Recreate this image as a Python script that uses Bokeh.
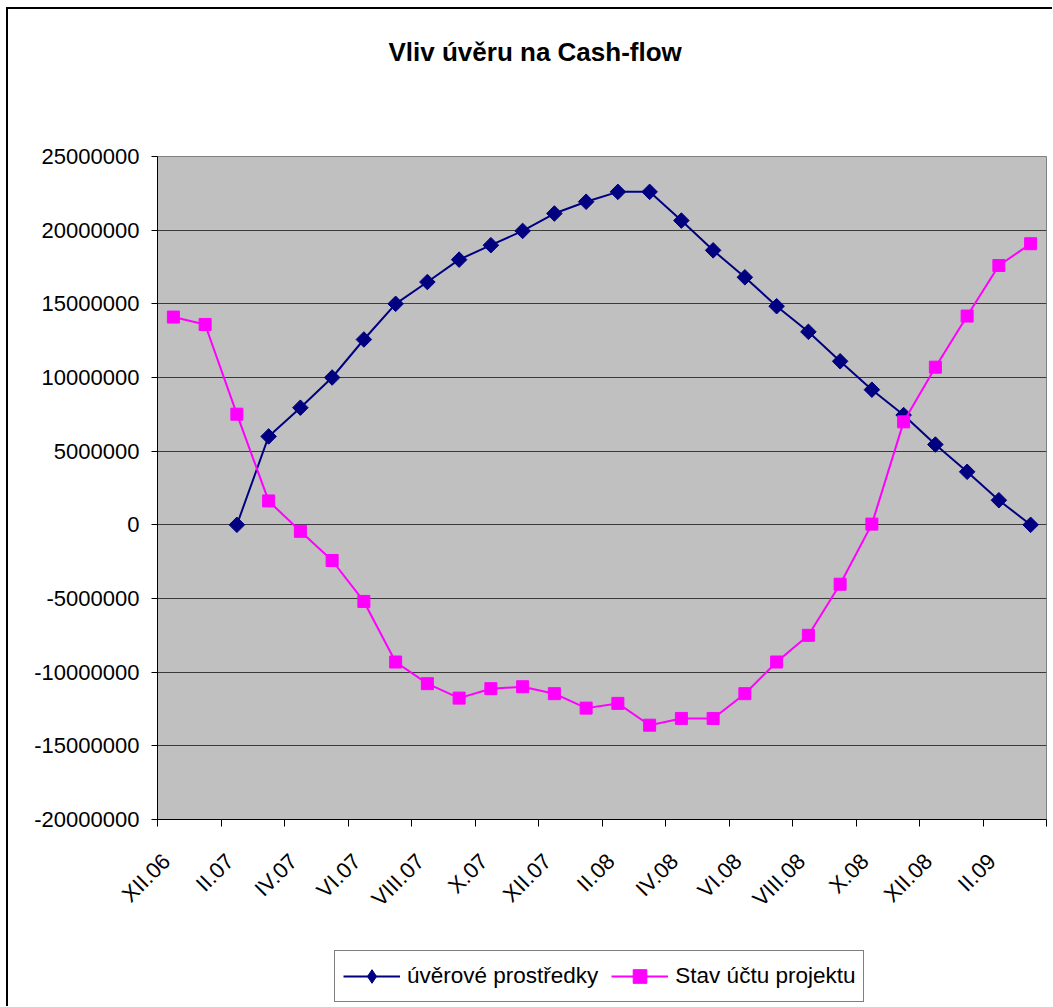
import math
import numpy as np
from bokeh.plotting import figure
from bokeh.layouts import column
from bokeh.models import (FixedTicker, NumeralTickFormatter, Range1d, Legend,
                          LegendItem, ColumnDataSource, Title,
                          CustomJSTickFormatter)
from bokeh.embed import file_html
from bokeh.resources import INLINE

# ---- data ----
categories = ["XII.06", "I.07", "II.07", "III.07", "IV.07", "V.07", "VI.07",
              "VII.07", "VIII.07", "IX.07", "X.07", "XI.07", "XII.07", "I.08",
              "II.08", "III.08", "IV.08", "V.08", "VI.08", "VII.08", "VIII.08",
              "IX.08", "X.08", "XI.08", "XII.08", "I.09", "II.09", "III.09"]

uverove_prostredky = [None, None, 0, 6000000, 7950000, 10000000, 12580000,
                      15000000, 16480000, 18000000, 18980000, 19950000,
                      21130000, 21930000, 22600000, 22600000, 20650000,
                      18630000, 16800000, 14840000, 13100000, 11100000,
                      9170000, 7450000, 5450000, 3600000, 1670000, 0]

stav_uctu_projektu = [14100000, 13600000, 7510000, 1620000, -440000, -2420000,
                      -5200000, -9310000, -10780000, -11760000, -11120000,
                      -10990000, -11460000, -12440000, -12120000, -13600000,
                      -13140000, -13140000, -11460000, -9310000, -7500000,
                      -4030000, 50000, 6990000, 10700000, 14170000, 17600000,
                      19080000]

y_ticks = [-20000000, -15000000, -10000000, -5000000, 0, 5000000, 10000000,
           15000000, 20000000, 25000000]

series_names = ["úvěrové prostředky", "Stav účtu projektu"]
title_text = "Vliv úvěru na Cash-flow"

FONT = "Liberation Sans"
NAVY = "#000080"
MAGENTA = "#FF00FF"

x = list(range(len(categories)))
src = ColumnDataSource(dict(
    x=x,
    uver=[np.nan if v is None else v for v in uverove_prostredky],
    stav=stav_uctu_projektu,
))

# ---------------- main chart ----------------
p = figure(frame_width=889, frame_height=663, output_backend="svg",
           toolbar_location=None,
           x_range=Range1d(-0.5, len(categories) - 0.5),
           y_range=Range1d(y_ticks[0], y_ticks[-1]),
           min_border_left=149, min_border_top=147, min_border_right=6,
           min_border_bottom=120)

p.background_fill_color = "#C0C0C0"
p.border_fill_color = "white"
p.outline_line_color = "#808080"
p.outline_line_width = 1

# spacer between frame and title (title is stacked outermost)
p.add_layout(Title(text=" ", text_font_size="10px", standoff=72), "above")

p.title.text = title_text
p.title.text_font = FONT
p.title.text_font_size = "26px"
p.title.text_font_style = "bold"
p.title.text_color = "black"
p.title.align = "left"
p.title.offset = 231
p.title.standoff = 10

# x axis: tick marks between categories, labels on every 2nd category
label_shift = 0.22
label_idx = list(range(0, len(categories), 2))
p.xaxis.ticker = FixedTicker(ticks=[i - label_shift for i in label_idx],
                             minor_ticks=[i - 0.5 for i in range(0, len(categories) + 1, 2)])
p.xaxis.formatter = CustomJSTickFormatter(args=dict(cats=categories),
                                          code="const c = cats[Math.round(tick)]; return c == null ? '' : c;")
p.xaxis.major_tick_line_color = None
p.xaxis.major_tick_out = 7
p.xaxis.major_tick_in = 0
p.xaxis.minor_tick_line_color = "black"
p.xaxis.minor_tick_out = 7
p.xaxis.minor_tick_in = 0
p.xaxis.major_label_orientation = math.pi / 4
p.xaxis.major_label_text_font = FONT
p.xaxis.major_label_text_font_size = "22px"
p.xaxis.major_label_text_color = "black"
p.xaxis.major_label_standoff = 31
p.xaxis.axis_line_color = "black"

# y axis
p.yaxis.ticker = FixedTicker(ticks=y_ticks)
p.yaxis.formatter = NumeralTickFormatter(format="0")
p.yaxis.major_tick_out = 6
p.yaxis.major_tick_in = 0
p.yaxis.minor_tick_line_color = None
p.yaxis.major_label_text_font = FONT
p.yaxis.major_label_text_font_size = "22px"
p.yaxis.major_label_text_color = "black"
p.yaxis.major_label_standoff = 12
p.yaxis.axis_line_color = "black"

p.xgrid.visible = False
p.ygrid.grid_line_color = "#3a3a3a"
p.ygrid.grid_line_width = 1

p.line("x", "uver", source=src, line_color=NAVY, line_width=2)
p.scatter("x", "uver", source=src, marker="square", angle=math.pi / 4,
          size=11, fill_color=NAVY, line_color=NAVY)
p.line("x", "stav", source=src, line_color=MAGENTA, line_width=2)
p.scatter("x", "stav", source=src, marker="square", size=12,
          fill_color=MAGENTA, line_color=MAGENTA)

# ---------------- legend strip (below the chart) ----------------
lf = figure(width=1044, height=67, output_backend="svg", toolbar_location=None,
            x_range=Range1d(0, 1), y_range=Range1d(0, 1),
            x_axis_type=None, y_axis_type=None, min_border=0)
lf.background_fill_color = "white"
lf.border_fill_color = "white"
lf.outline_line_color = None
lf.xgrid.visible = False
lf.ygrid.visible = False

empty = ColumnDataSource(dict(x=[np.nan], y=[np.nan]))  # swatches only
ll1 = lf.line("x", "y", source=empty, line_color=NAVY, line_width=2)
ld1 = lf.scatter("x", "y", source=empty, marker="diamond", size=14,
                 fill_color=NAVY, line_color=NAVY)
ll2 = lf.line("x", "y", source=empty, line_color=MAGENTA, line_width=2)
ls2 = lf.scatter("x", "y", source=empty, marker="square", size=12,
                 fill_color=MAGENTA, line_color=MAGENTA)

legend = Legend(items=[LegendItem(label=series_names[0], renderers=[ll1, ld1]),
                       LegendItem(label=series_names[1], renderers=[ll2, ls2])],
                orientation="horizontal", location=(177, 4),
                glyph_width=57, glyph_height=34, label_height=34,
                label_standoff=7, spacing=13, padding=8, margin=0,
                border_line_color="black", border_line_width=1,
                background_fill_color="white", background_fill_alpha=1.0,
                label_text_font=FONT, label_text_font_size="22.5px",
                label_text_color="black")
lf.add_layout(legend, "center")

layout = column(p, lf, spacing=0)
layout.styles = {"margin-left": "6px", "margin-top": "7px",
                 "border-left": "2px solid black", "border-top": "2px solid black"}

open("out.html", "w").write(file_html(layout, INLINE))
